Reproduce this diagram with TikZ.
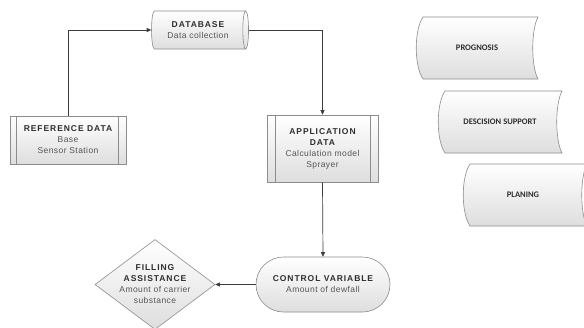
\documentclass[tikz,border=0pt]{standalone}
\usepackage{fontspec}
\setmainfont{Liberation Sans}
\newfontfamily\hdfont[LetterSpace=11]{Liberation Sans}
\newfontfamily\bdfont[LetterSpace=5]{Liberation Sans}
\newfontfamily\clfont{Carlito}
\usetikzlibrary{shapes.geometric,shapes.misc,arrows.meta,calc}
\definecolor{hdc}{HTML}{2E2E2E}
\definecolor{bdc}{HTML}{555555}
\definecolor{edgec}{HTML}{8C8C8C}
\definecolor{connc}{HTML}{3C3C3C}
\newcommand\hdtxt[1]{{\hdfont\bfseries\color{hdc}#1}}
\newcommand\bdtxt[1]{{\bdfont\color{bdc}#1}}
\tikzset{
  box/.style={draw=edgec, line width=0.6pt, top color=white, bottom color=black!13,
    align=center, font=\fontsize{8.5}{11}\selectfont},
  innerbar/.style={draw=edgec, line width=0.6pt},
  store/.style={draw=edgec, line width=0.6pt, top color=white, bottom color=black!13},
  storetext/.style={font=\clfont\bfseries\fontsize{8.5}{10}\selectfont, text=hdc},
  conn/.style={draw=connc, line width=0.7pt, -{Triangle[length=4.5pt,width=4pt]}},
  txt/.style={align=center, font=\fontsize{8.5}{11}\selectfont}
}
\begin{document}
\begin{tikzpicture}[x=1pt, y=-1pt]
\clip (0,0) rectangle (584,327);
\fill[white] (0,0) rectangle (584,327);

% database cylinder
\node[box, cylinder, shape border rotate=0, aspect=0.3, minimum width=38pt, minimum height=97pt, inner sep=1pt] (db) at (198,30)
  {\hdtxt{DATABASE}\\\bdtxt{Data collection}};

% reference data
\node[box, rectangle, minimum width=116pt, minimum height=48pt, inner sep=0pt] (ref) at (68,140)
  {\hdtxt{REFERENCE DATA}\\\bdtxt{Base}\\\bdtxt{Sensor Station}};
\draw[innerbar] ($(ref.north west)+(7,0)$) -- ($(ref.south west)+(7,0)$);
\draw[innerbar] ($(ref.north east)+(-8,0)$) -- ($(ref.south east)+(-8,0)$);

% application data
\node[box, rectangle, minimum width=111pt, minimum height=67pt, inner sep=0pt] (app) at (322.5,148.5)
  {\hdtxt{APPLICATION}\\\hdtxt{DATA}\\\bdtxt{Calculation model}\\\bdtxt{Sprayer}};
\draw[innerbar] ($(app.north west)+(9,0)$) -- ($(app.south west)+(9,0)$);
\draw[innerbar] ($(app.north east)+(-8,0)$) -- ($(app.south east)+(-8,0)$);

% control variable
\node[box, rounded rectangle, minimum width=134pt, minimum height=55pt, inner sep=0pt] (ctrl) at (323,284.5)
  {\hdtxt{CONTROL VARIABLE}\\\bdtxt{Amount of dewfall}};

% filling assistance
\node[box, diamond, minimum width=120pt, minimum height=90pt, inner sep=0pt] (fill) at (155,284.5) {};
\node[txt] (filltxt) at (fill.center)
  {\hdtxt{FILLING}\\\hdtxt{ASSISTANCE}\\\bdtxt{Amount of carrier}\\\bdtxt{substance}};

% connectors
\draw[conn] (ref.north) |- (db.west);
\draw[conn] (db.east) -| (app.north);
\draw[conn] (app.south) -- (ctrl.north);
\draw[conn] (ctrl.west) -- (fill.east);

% stored data shapes
\draw[store] (423,17) -- (538,17) .. controls (531,30) and (531,66) .. (538,79) -- (423,79) .. controls (414,66) and (414,30) .. (423,17) -- cycle;
\node[storetext] (prog) at (477,48) {PROGNOSIS};

\draw[store] (445,91) -- (562,91) .. controls (555,104) and (555,140) .. (562,153) -- (445,153) .. controls (436,140) and (436,104) .. (445,91) -- cycle;
\node[storetext] (dss) at (500,122) {DESCISION SUPPORT};

\draw[store] (470,164) -- (587,164) .. controls (580,177) and (580,213) .. (587,226) -- (470,226) .. controls (461,213) and (461,177) .. (470,164) -- cycle;
\node[storetext] (plan) at (523,195) {PLANING};
\end{tikzpicture}
\end{document}
